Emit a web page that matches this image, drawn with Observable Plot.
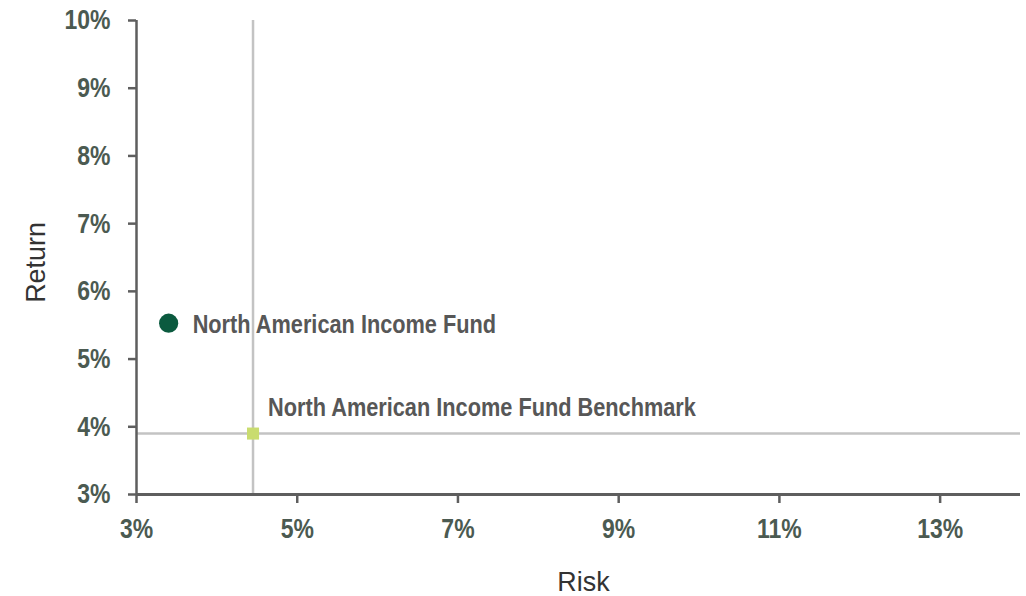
<!DOCTYPE html>
<html>
<head>
<meta charset="utf-8">
<script src="https://cdn.jsdelivr.net/npm/d3@7"></script>
<script src="https://cdn.jsdelivr.net/npm/@observablehq/plot@0.6"></script>
<style>
  html, body { margin: 0; padding: 0; background: #fff; }
  #chart svg { display: block; }
</style>
</head>
<body>
<div id="chart"></div>
<script>
// Data
const names = ["North American Income Fund", "North American Income Fund Benchmark"];
const risk = [3.40, 4.45];
const ret = [5.53, 3.90];
const xTicks = [3, 5, 7, 9, 11, 13];
const yTicks = [3, 4, 5, 6, 7, 8, 9, 10];
const xDomain = [3, 14];
const yDomain = [3, 10];
const xTitle = "Risk";
const yTitle = "Return";

const fund = [{name: names[0], risk: risk[0], ret: ret[0]}];
const bench = [{name: names[1], risk: risk[1], ret: ret[1]}];

const font = "'Liberation Sans', Arial, sans-serif";
const tickColor = "#4b5a51";
const axisColor = "#5e5e5e";
const gridColor = "#c3c3c3";
const labelColor = "#575757";

const chart = Plot.plot({
  width: 1026,
  height: 596,
  marginLeft: 136,
  marginRight: 6,
  marginTop: 20,
  marginBottom: 102,
  style: {fontFamily: font, background: "#fff"},
  x: {domain: xDomain},
  y: {domain: yDomain},
  marks: [
    // crosshair through benchmark
    Plot.ruleX(bench, {x: "risk", stroke: gridColor, strokeWidth: 2.5}),
    Plot.ruleY(bench, {y: "ret", stroke: gridColor, strokeWidth: 2.5}),
    // axis lines
    Plot.ruleX([xDomain[0]], {stroke: axisColor, strokeWidth: 2.5}),
    Plot.ruleY([yDomain[0]], {stroke: axisColor, strokeWidth: 3}),
    // axes
    Plot.axisX({
      ticks: xTicks, tickFormat: d => d + "%", tickSize: 9, tickPadding: 15,
      stroke: axisColor, strokeWidth: 2.5, fill: tickColor, fontSize: 28, fontWeight: "bold",
      label: null
    }),
    Plot.axisY({
      ticks: yTicks, tickFormat: d => d + "%", tickSize: 8, tickPadding: 18,
      stroke: axisColor, strokeWidth: 2.5, fill: tickColor, fontSize: 28, fontWeight: "bold",
      label: null
    }),
    // axis titles
    Plot.text([xTitle], {frameAnchor: "bottom", dy: 88, dx: 5, fontSize: 28, fill: "#333",
      lineAnchor: "middle", textAnchor: "middle", className: "axis-title"}),
    Plot.text([yTitle], {frameAnchor: "left", dx: -100, dy: 5, rotate: -90, fontSize: 28, fill: "#333",
      lineAnchor: "middle", textAnchor: "middle", className: "axis-title"}),
    // points
    Plot.dot(fund, {x: "risk", y: "ret", r: 9.6, fill: "#0b5a3f", stroke: null}),
    Plot.dot(bench, {x: "risk", y: "ret", symbol: "square", r: 6.8, fill: "#c9dc6f", stroke: null}),
    // labels
    Plot.text(fund, {x: "risk", y: "ret", text: "name", dx: 24, dy: 1, textAnchor: "start", lineAnchor: "middle",
      fontSize: 26.5, fontWeight: "bold", fill: labelColor}),
    Plot.text(bench, {x: "risk", y: "ret", text: "name", dx: 15, dy: -26, textAnchor: "start", lineAnchor: "middle",
      fontSize: 26.5, fontWeight: "bold", fill: labelColor})
  ]
});
document.getElementById("chart").appendChild(chart);

// Condense text horizontally to mimic the narrow typeface of the original
chart.querySelectorAll("text").forEach(t => {
  const w = t.getComputedTextLength();
  if (w > 0) {
    const isTitle = !!t.closest(".axis-title");
    t.setAttribute("textLength", (w * (isTitle ? 0.96 : 0.82)).toFixed(2));
    t.setAttribute("lengthAdjust", "spacingAndGlyphs");
  }
});
</script>
</body>
</html>
